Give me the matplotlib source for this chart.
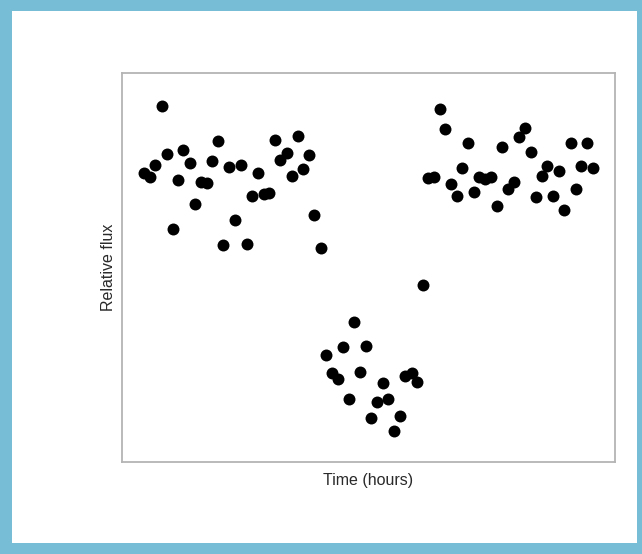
import matplotlib
matplotlib.use('Agg')
import matplotlib.pyplot as plt
from matplotlib.patches import Rectangle

# light curve readings: time in hours, relative flux
time_before = [0.45, 0.57, 0.67, 0.91, 0.81, 1.03, 1.14, 1.24, 1.38, 1.48,
               1.60, 1.72, 1.83, 1.95, 2.05, 2.18, 2.29, 2.41, 2.53, 2.63,
               2.75, 2.88, 2.98, 3.10, 3.20, 3.34, 3.44, 3.56, 3.68, 3.79,
               3.90, 4.03]
flux_before = [0.9997, 0.9993, 1.0005, 1.0017, 1.0066, 0.9940, 0.9990, 1.0021, 1.0007, 0.9965,
               0.9988, 0.9987, 1.0009, 1.0030, 0.9923, 1.0003, 0.9949, 1.0005, 0.9924, 0.9974,
               0.9997, 0.9976, 0.9977, 1.0031, 1.0011, 1.0018, 0.9994, 1.0035, 1.0001, 1.0016,
               0.9954, 0.9920]

time_transit = [4.13, 4.25, 4.38, 4.49, 4.60, 4.71, 4.83, 4.95, 5.06, 5.18,
                5.30, 5.40, 5.52, 5.64, 5.74, 5.88, 5.99, 6.10]
flux_transit = [0.9810, 0.9792, 0.9785, 0.9818, 0.9765, 0.9844, 0.9793, 0.9819, 0.9745, 0.9762,
                0.9781, 0.9765, 0.9732, 0.9747, 0.9788, 0.9792, 0.9782, 0.9882]

time_after = [6.21, 6.33, 6.45, 6.55, 6.67, 6.80, 6.90, 7.02, 7.13, 7.24,
              7.36, 7.48, 7.60, 7.71, 7.82, 7.95, 8.05, 8.17, 8.29, 8.40,
              8.52, 8.63, 8.75, 8.86, 8.97, 9.10, 9.20, 9.32, 9.44, 9.55]
flux_after = [0.9992, 0.9993, 1.0063, 1.0042, 0.9986, 0.9974, 1.0002, 1.0028, 0.9978, 0.9993,
              0.9991, 0.9993, 0.9963, 1.0024, 0.9981, 0.9988, 1.0034, 1.0043, 1.0019, 0.9973,
              0.9994, 1.0004, 0.9974, 0.9999, 0.9959, 1.0028, 0.9981, 1.0004, 1.0028, 1.0002]

time = time_before + time_transit + time_after
flux = flux_before + flux_transit + flux_after

fig = plt.figure(figsize=(6.42, 5.54), dpi=100)
fig.patch.set_facecolor('#78bdd6')
# white card inside the blue frame, kept behind the axes
fig.patches.append(Rectangle((12 / 642, 11 / 554), 625 / 642, 532 / 554,
                             transform=fig.transFigure, facecolor='white',
                             edgecolor='none', zorder=-1))

ax = fig.add_axes([122 / 642, 92 / 554, 493 / 642, 389 / 554])
ax.set_zorder(1)
ax.plot(time, flux, 'o', color='black', markersize=8.6, markeredgewidth=0)

ax.set_xlim(0, 10)
ax.set_ylim(0.97, 1.01)
ax.set_xticks([])
ax.set_yticks([])
for side in ax.spines.values():
    side.set_color('#b4b4b4')
    side.set_linewidth(1.3)

ax.set_xlabel('Time (hours)', fontsize=11.5, family='Liberation Sans',
              color='#2a2a2a', labelpad=8)
ax.set_ylabel('Relative flux', fontsize=11.5, family='Liberation Sans',
              color='#2a2a2a', labelpad=4)

fig.savefig('out.png', dpi=100, facecolor=fig.get_facecolor())
